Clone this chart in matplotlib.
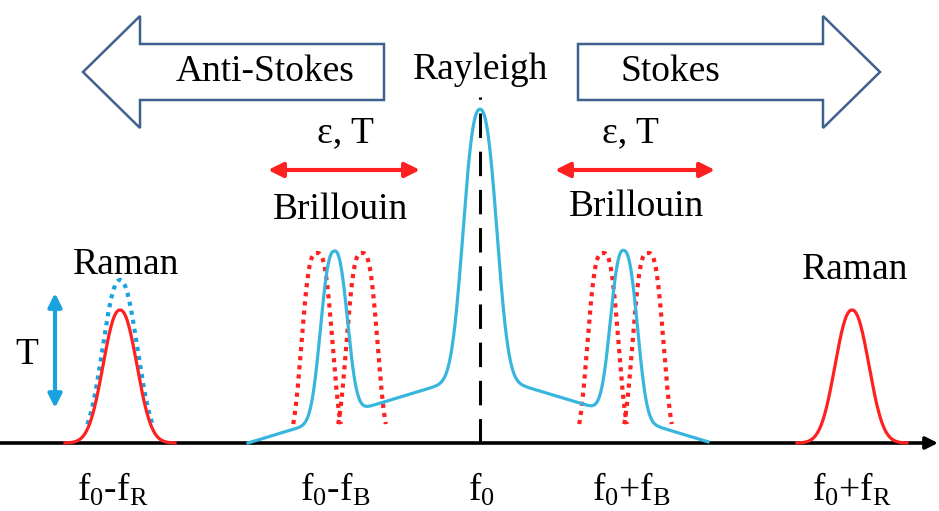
import numpy as np
import matplotlib.pyplot as plt
from matplotlib.patches import FancyArrow

plt.rcParams['font.family'] = ['Liberation Serif', 'DejaVu Serif']
plt.rcParams['mathtext.default'] = 'regular'

# frequency axis positions and peak heights above the baseline
rayleigh_pos = 480
rayleigh_height = 264
wing_height = 70
wing_halfwidth = 232

brillouin_pos = [334, 624]
brillouin_height = 166
brillouin_shifted = [317, 362, 603, 648]
brillouin_shifted_height = 190

raman_pos = [120, 852]
raman_height = 133
raman_hot_height = 163

tick_pos = [113, 335, 481, 632, 852]
tick_labels = ['f$_0$-f$_R$', 'f$_0$-f$_B$', 'f$_0$', 'f$_0$+f$_B$', 'f$_0$+f$_R$']

RED = '#FF2020'
BLUE = '#38B6DE'
ARROW_BLUE = '#18A2E0'
OUTLINE = '#40608F'
FS = 27


def peak(x, c, h, w, p):
    return h * np.exp(-np.abs((x - c) / w) ** p)


def spectrum(x):
    wing = wing_height * np.clip(1 - np.abs(x - rayleigh_pos) / wing_halfwidth, 0, None)
    y = wing + peak(x, rayleigh_pos, rayleigh_height, 21, 2.5)
    for c in brillouin_pos:
        y = y + peak(x, c, brillouin_height, 16.8, 2.5)
    return y


fig = plt.figure(figsize=(9.39, 5.11), dpi=100)
ax = fig.add_axes([0, 0, 1, 1])
ax.set_xlim(0, 939)
ax.set_ylim(-68, 443)
ax.axis('off')

# frequency axis
ax.annotate('', xy=(938, 0), xytext=(0, 0),
            arrowprops=dict(arrowstyle='-|>', color='black', lw=2.6,
                            mutation_scale=18, shrinkA=0, shrinkB=0))

# Rayleigh + Brillouin spectrum
x = np.linspace(248, 708, 1200)
ax.plot(x, spectrum(x), color=BLUE, lw=2.3, zorder=3)
ax.plot([rayleigh_pos, rayleigh_pos], [0, 346], color='black', lw=2.2,
        linestyle=(0, (8, 4.5)), zorder=4)

# shifted Brillouin peaks (strain / temperature)
for c in brillouin_shifted:
    xs = np.linspace(c - 30, c + 30, 300)
    ys = peak(xs, c, brillouin_shifted_height, 18, 3)
    keep = ys >= 18
    ax.plot(xs[keep], ys[keep], color=RED, lw=3, linestyle=(0, (1, 1.2)), zorder=2)

# Raman peaks
for c in raman_pos:
    xs = np.linspace(c - 55, c + 55, 400)
    ax.plot(xs, peak(xs, c, raman_height, 22.5, 2.2), color=RED, lw=2.3, zorder=3)

xs = np.linspace(raman_pos[0] - 45, raman_pos[0] + 45, 300)
ys = peak(xs, raman_pos[0], raman_hot_height, 23, 2.2)
keep = ys >= 18
ax.plot(xs[keep], ys[keep], color=ARROW_BLUE, lw=3, linestyle=(0, (1, 1.2)), zorder=2)

# Anti-Stokes / Stokes arrows
ax.add_patch(FancyArrow(384, 371, -301, 0, width=56, head_width=112, head_length=57,
                        length_includes_head=True, fc='white', ec=OUTLINE, lw=1.8))
ax.add_patch(FancyArrow(578, 371, 302, 0, width=56, head_width=112, head_length=57,
                        length_includes_head=True, fc='white', ec=OUTLINE, lw=1.8))
ax.text(265, 371, 'Anti-Stokes', fontsize=FS, ha='center', va='center')
ax.text(670, 371, 'Stokes', fontsize=FS, ha='center', va='center')
ax.text(481, 373, 'Rayleigh', fontsize=FS, ha='center', va='center')

# Brillouin shift arrows
for x0, x1, tx in [(268, 420, 345), (555, 715, 630)]:
    ax.annotate('', xy=(x0, 273), xytext=(x1, 273),
                arrowprops=dict(arrowstyle='<|-|>', color=RED, lw=3,
                                mutation_scale=22, shrinkA=0, shrinkB=0))
    ax.text(tx, 310, 'ε, T', fontsize=FS, ha='center', va='center')
ax.text(340, 233, 'Brillouin', fontsize=FS, ha='center', va='center')
ax.text(636, 236, 'Brillouin', fontsize=FS, ha='center', va='center')

ax.text(126, 178, 'Raman', fontsize=FS, ha='center', va='center')
ax.text(855, 173, 'Raman', fontsize=FS, ha='center', va='center')

# temperature arrow on anti-Stokes Raman
ax.annotate('', xy=(55, 150), xytext=(55, 35),
            arrowprops=dict(arrowstyle='<|-|>', color=ARROW_BLUE, lw=3,
                            mutation_scale=20, shrinkA=0, shrinkB=0))
ax.text(27, 88, 'T', fontsize=FS, ha='center', va='center')

for px, lab in zip(tick_pos, tick_labels):
    ax.text(px, -47, lab, fontsize=FS, ha='center', va='center')

fig.savefig('out.png', dpi=100)
